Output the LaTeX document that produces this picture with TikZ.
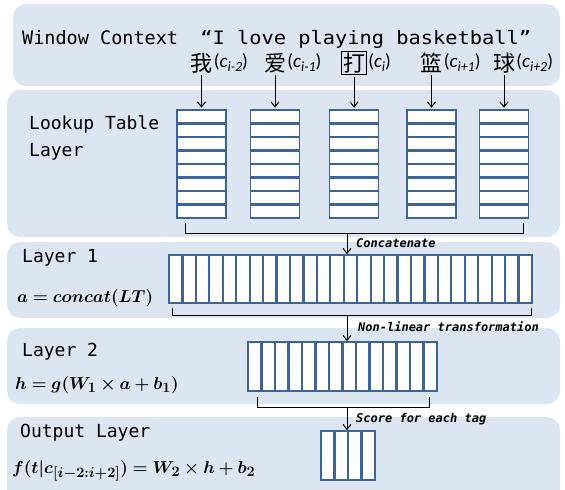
\documentclass[tikz,border=0pt]{standalone}
\usepackage{fontspec}
\usepackage{graphicx}
\usepackage{amsmath,bm}
\usetikzlibrary{arrows.meta,calc}
\newfontfamily\cjkf{Noto Sans CJK SC}
\newfontfamily\monof{DejaVu Sans Mono}
\newfontfamily\carlf{Carlito}
\DeclareMathSizes{18}{18}{14}{11}
\definecolor{panel}{RGB}{220,230,242}
\definecolor{cell}{RGB}{62,100,150}
\newcommand\clab[1]{{\carlf\fontsize{19}{19}\selectfont(\textit{c}\raisebox{-4pt}{\fontsize{14}{14}\selectfont\textit{#1}})}}
\tikzset{
  pnl/.style={fill=panel, rounded corners=13pt},
  lut/.style={draw=cell, fill=white, line width=1.7pt, minimum width=49pt, minimum height=108pt, inner sep=0pt,
    path picture={\foreach \k in {1,...,7}{\pgfmathsetmacro\fr{\k/8}
      \draw[cell,line width=2.2pt] ($(path picture bounding box.north west)!\fr!(path picture bounding box.south west)$) -- ($(path picture bounding box.north east)!\fr!(path picture bounding box.south east)$);}}},
  vec/.style={draw=cell, fill=white, line width=1.7pt, inner sep=0pt,
    path picture={\pgfmathtruncatemacro\nm{#1-1}\foreach \k in {1,...,\nm}{\pgfmathsetmacro\fr{\k/#1}
      \draw[cell,line width=2.2pt] ($(path picture bounding box.north west)!\fr!(path picture bounding box.north east)$) -- ($(path picture bounding box.south west)!\fr!(path picture bounding box.south east)$);}}},
  chr/.style={font=\cjkf\fontsize{22}{22}\selectfont, inner sep=0pt},
  sub/.style={anchor=west, inner sep=0pt, xshift=1pt},
  arr/.style={-{Straight Barb[length=5pt,width=8pt]}, line width=1pt},
  brk/.style={line width=1pt},
  lbl/.style={anchor=base west, inner sep=0pt, font=\monof\fontsize{18}{18}\selectfont},
  fml/.style={anchor=base west, inner sep=0pt, font=\fontsize{18}{18}\selectfont},
  tagl/.style={anchor=west, inner sep=0pt, font=\monof\bfseries\itshape\fontsize{12}{12}\selectfont},
}
\begin{document}
\begin{tikzpicture}[x=1pt,y=-1pt]
\useasboundingbox (0,0) rectangle (565,490);
\clip (0,0) rectangle (565,490);
\fill[white] (0,0) rectangle (565,490);
% panels
\fill[pnl] (13,4) rectangle (560,86);
\fill[pnl] (7,90) rectangle (560,237);
\fill[pnl] (7,242) rectangle (560,318);
\fill[pnl] (7,328) rectangle (560,404);
\fill[pnl] (7,417) rectangle (560,505);
% title
\node[lbl, font=\monof\fontsize{18.5}{18.5}\selectfont] (title) at (22,44) {Window Context\ \ \scalebox{1.1}[1]{“I love playing basketball”}};
% characters
\node[chr] (c1) at (201.5,63) {我};
\node[sub] (s1) at (c1.east) {\clab{i-2}};
\node[chr] (c2) at (275,63) {爱};
\node[sub] (s2) at (c2.east) {\clab{i-1}};
\node[chr, draw=black, line width=1.2pt, inner sep=1.5pt] (c3) at (354,63) {打};
\node[sub] (s3) at (c3.east) {\clab{i}};
\node[chr] (c4) at (431.5,63) {篮};
\node[sub] (s4) at (c4.east) {\clab{i+1}};
\node[chr] (c5) at (504,63) {球};
\node[sub] (s5) at (c5.east) {\clab{i+2}};
% lookup table
\node[lbl] (lt1) at (29,129) {Lookup Table};
\node[lbl] (lt2) at (29,156) {Layer};
\node[lut] (L1) at (201.5,164) {};
\node[lut] (L2) at (275,164) {};
\node[lut] (L3) at (354,164) {};
\node[lut] (L4) at (431.5,164) {};
\node[lut] (L5) at (504,164) {};
\foreach \i in {1,...,5}{\draw[arr, shorten <=2pt, shorten >=1.5pt] (c\i.south) -- (L\i.north);}
% bracket 1
\draw[brk] (185,223) -- (185,233) -- (523,233) -- (523,223);
\coordinate (k1) at (347,233);
% layer 1
\node[lbl] (l1) at (22,262) {Layer 1};
\node[fml] (f1) at (17,302) {$\bm{a = concat(LT)}$};
\node[vec=27, minimum width=363pt, minimum height=48pt] (V1) at (350.5,279) {};
\draw[arr] (k1) -- (k1 |- V1.north);
\node[tagl] (t1) at (356,243) {Concatenate};
% bracket 2
\draw[brk] (172,308) -- (172,315) -- (531,315) -- (531,308);
\coordinate (k2) at (347,315);
% layer 2
\node[lbl] (l2) at (22,356) {Layer 2};
\node[fml] (f2) at (15,389) {$\bm{h = g(W_1 \times a + b_1)}$};
\node[vec=14, minimum width=189pt, minimum height=49pt] (V2) at (342.5,366.5) {};
\draw[arr] (k2) -- (k2 |- V2.north);
\node[tagl] (t2) at (358,327) {Non-linear transformation};
% bracket 3
\draw[brk] (257,397) -- (257,407) -- (429,407) -- (429,397);
\coordinate (k3) at (347,407);
% output layer
\node[lbl] (l3) at (20,437) {Output Layer};
\node[fml] (f3) at (12,473) {$\bm{f(t|c_{[i-2:i+2]}) = W_2 \times h + b_2}$};
\node[vec=4, minimum width=54pt, minimum height=49pt] (V3) at (348,455.5) {};
\draw[arr] (k3) -- (k3 |- V3.north);
\node[tagl] (t3) at (356,419) {Score for each tag};
\end{tikzpicture}
\end{document}
